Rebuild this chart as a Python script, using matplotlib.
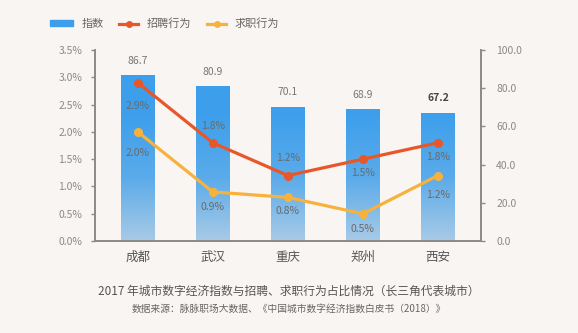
import matplotlib

matplotlib.use("Agg")
import matplotlib.pyplot as plt
import numpy as np
from matplotlib.colors import LinearSegmentedColormap
from matplotlib.legend_handler import HandlerLine2D
from matplotlib.lines import Line2D
from matplotlib.patches import Rectangle

plt.rcParams["font.family"] = ["Noto Sans CJK SC", "DejaVu Sans"]

cities = ["成都", "武汉", "重庆", "郑州", "西安"]
index_vals = [86.7, 80.9, 70.1, 68.9, 67.2]
recruit_pct = [2.9, 1.8, 1.2, 1.5, 1.8]
jobseek_pct = [2.0, 0.9, 0.8, 0.5, 1.2]

# vertical offsets (points) of the percentage labels
recruit_off = [-17, 12, 13, -10, -10]
jobseek_off = [-15, -11, -10, -11, -14]

BG = "#f9f5f2"
BLUE = "#3d9fec"
RED = "#e8572a"
YEL = "#f6b23c"
GREY = "#8a8a8a"


class DotLeftHandler(HandlerLine2D):
    """Legend line with its marker sitting at the left end."""

    def get_xdata(self, legend, xdescent, ydescent, width, height, fontsize):
        xdata = np.array([-xdescent + 0.15 * width, -xdescent + width])
        return xdata, np.array([-xdescent + 0.1 * width])


fig = plt.figure(figsize=(5.78, 3.33), dpi=100, facecolor=BG)
ax = fig.add_axes([0.164, 0.276, 0.668, 0.574])
ax2 = ax.twinx()
ax.set_zorder(ax2.get_zorder() + 1)
ax.patch.set_visible(False)
ax2.set_facecolor(BG)

x = np.arange(len(cities))
w = 0.45

# gradient bars on the right axis
cmap = LinearSegmentedColormap.from_list("bar", ["#a8cae6", "#5aabea", BLUE, BLUE])
grad = np.linspace(0, 1, 256).reshape(-1, 1)
bars = ax2.bar(x, index_vals, width=w, color="none", edgecolor="none")
for b in bars:
    im = ax2.imshow(grad, origin="lower", cmap=cmap, aspect="auto",
                    extent=(b.get_x(), b.get_x() + b.get_width(), 0, 100), zorder=1)
    im.set_clip_path(b)
for xi, v in zip(x, index_vals):
    bold = v == index_vals[-1]
    ax2.annotate(f"{v:.1f}", (xi, v), xytext=(0, 7), textcoords="offset points",
                 ha="center", va="bottom", fontsize=7.5,
                 color="#444444" if bold else "#777777",
                 fontweight="bold" if bold else "normal")

ax.plot(x, recruit_pct, color=RED, lw=2.3, marker="o", ms=5.5, zorder=3)
ax.plot(x, jobseek_pct, color=YEL, lw=2.3, marker="o", ms=5.5, zorder=3)
for xi, v, o in zip(x, recruit_pct, recruit_off):
    ax.annotate(f"{v:.1f}%", (xi, v), xytext=(0, o), textcoords="offset points",
                ha="center", va="center", fontsize=7.5, color="#6a6a6a")
for xi, v, o in zip(x, jobseek_pct, jobseek_off):
    ax.annotate(f"{v:.1f}%", (xi, v), xytext=(0, o), textcoords="offset points",
                ha="center", va="center", fontsize=7.5, color="#6a6a6a")

ax.set_xlim(-0.573, 4.573)
ax.set_ylim(0, 3.5)
ax2.set_ylim(0, 100)
ax.set_yticks(np.arange(0, 3.51, 0.5))
ax.set_yticklabels([f"{t:.1f}%" for t in np.arange(0, 3.51, 0.5)])
ax2.set_yticks(np.arange(0, 101, 20))
ax2.set_yticklabels([f"{t:.1f}" for t in np.arange(0, 101, 20)])
ax.set_xticks(x)
ax.set_xticklabels(cities, fontsize=9, color="#555555")

for a in (ax, ax2):
    a.spines["top"].set_visible(False)
    for s in ("left", "right", "bottom"):
        a.spines[s].set_color(GREY)
        a.spines[s].set_linewidth(1.2)
    a.tick_params(axis="y", labelsize=7.5, labelcolor="#8a8a8a", color=GREY,
                  length=3, width=1)
ax.tick_params(axis="x", length=0, pad=7)
ax2.tick_params(axis="y", pad=8)
ax.tick_params(axis="y", pad=6)

# legend row
red_h = Line2D([], [], color=RED, lw=2.3, marker="o", ms=4)
yel_h = Line2D([], [], color=YEL, lw=2.3, marker="o", ms=4)
handles = [Rectangle((0, 0), 1, 1, color=BLUE), red_h, yel_h]
fig.legend(handles, ["指数", "招聘行为", "求职行为"], loc="upper left",
           bbox_to_anchor=(0.07, 0.975), ncol=3, frameon=False, fontsize=8,
           labelcolor="#666666", handlelength=2.0, handleheight=0.45,
           columnspacing=1.1, handletextpad=0.8,
           handler_map={red_h: DotLeftHandler(numpoints=1),
                        yel_h: DotLeftHandler(numpoints=1)})

fig.text(0.5, 0.125, "2017 年城市数字经济指数与招聘、求职行为占比情况（长三角代表城市）",
         ha="center", va="center", fontsize=8.5, color="#555555")
fig.text(0.5, 0.072, "数据来源：脉脉职场大数据、《中国城市数字经济指数白皮书（2018）》",
         ha="center", va="center", fontsize=7, color="#666666")

fig.savefig("out.png", dpi=100, facecolor=BG)
